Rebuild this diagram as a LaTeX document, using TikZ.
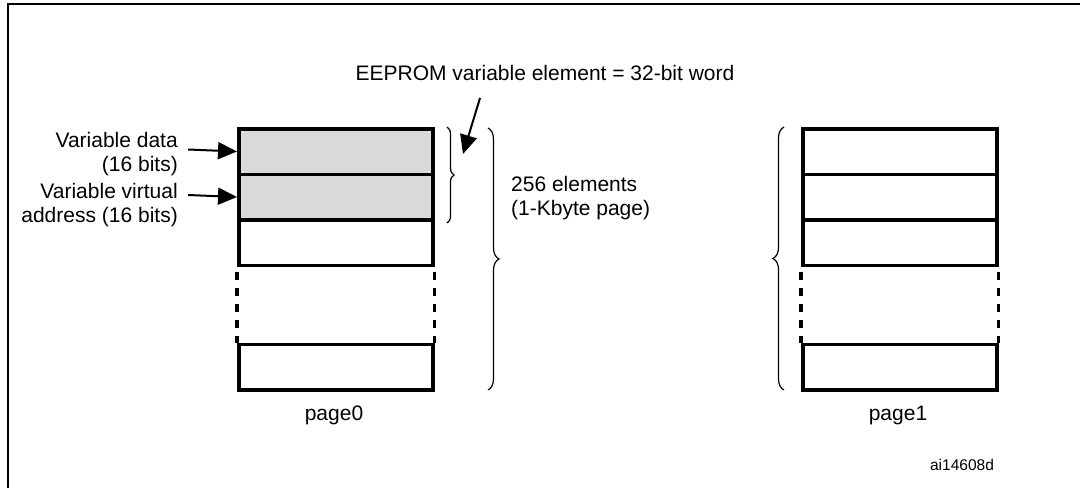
\documentclass[tikz,border=0pt]{standalone}
\usepackage{fontspec}
\setmainfont{Liberation Sans}
\usetikzlibrary{arrows.meta,decorations.pathreplacing}
\begin{document}
\begin{tikzpicture}[x=1pt,y=-1pt,
  >={Triangle[length=19pt,width=17pt]},
  lbl/.style={inner sep=0pt,font=\fontsize{21}{24}\selectfont},
  cell/.style={draw,line width=3.5pt,minimum width=194pt,minimum height=45.5pt,inner sep=0pt,anchor=north west},
  dcell/.style={cell,fill=black!15},
  arr/.style={line width=2pt,->},
  br/.style={line width=1.2pt,decorate,decoration={brace,amplitude=#1}},
  dsh/.style={line width=3.5pt,dash pattern=on 8pt off 8pt}]
\useasboundingbox (0,0) rectangle (1080,488);
\draw[line width=2pt] (8,488) -- (8,4) -- (1080,4);
% page0
\node[dcell] (p0a) at (237,127) {};
\node[dcell] (p0b) at (237,172.5) {};
\node[cell]  (p0c) at (237,218) {};
\node[cell]  (p0z) at (237,342.5) {};
\draw[dsh] (p0c.south west) ++(0,5) -- (p0z.north west);
\draw[dsh] (p0c.south east) ++(0,5) -- (p0z.north east);
% page1
\node[cell] (p1a) at (801,127) {};
\node[cell] (p1b) at (801,172.5) {};
\node[cell] (p1c) at (801,218) {};
\node[cell] (p1z) at (801,342.5) {};
\draw[dsh] (p1c.south west) ++(0,5) -- (p1z.north west);
\draw[dsh] (p1c.south east) ++(0,5) -- (p1z.north east);
% labels
\node[lbl] (pg0) at (334,415) {page0};
\node[lbl] (pg1) at (898,415) {page1};
\node[inner sep=0pt,font=\fontsize{15.5}{18}\selectfont] (ai) at (962,465) {ai14608d};
\node[lbl,align=right,anchor=east] (vd) at (178,154) {Variable data\\(16 bits)};
\node[lbl,align=right,anchor=east] (va) at (178,205) {Variable virtual\\address (16 bits)};
\coordinate (a1) at (188,149.5);
\coordinate (a2) at (188,195);
\draw[arr] (a1) -- (p0a.west);
\draw[arr] (a2) -- (p0b.west);
\node[lbl] (ee) at (545,73) {EEPROM variable element = 32-bit word};
\coordinate (e1) at (480,98);
\coordinate (e2) at (463,154);
\draw[arr] (e1) -- (e2);
\node[lbl,align=left,anchor=west] (el) at (511,198) {256 elements\\(1-Kbyte page)};
% braces
\draw[br=7pt] (447,127) -- (447,223);
\draw[br=11pt] (488,128) -- (488,390);
\draw[br=11pt] (784,390) -- (784,127);
\end{tikzpicture}
\end{document}
